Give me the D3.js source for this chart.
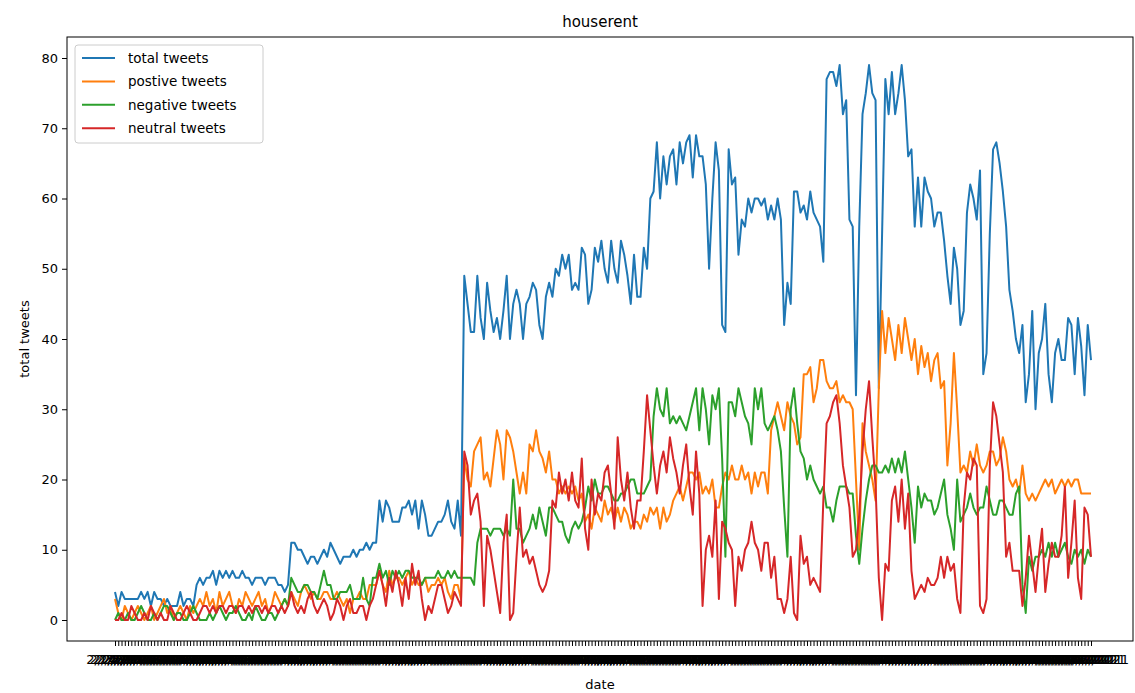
<!DOCTYPE html>
<html>
<head>
<meta charset="utf-8">
<script src="https://cdn.jsdelivr.net/npm/d3@7"></script>
<style>
  html, body { margin: 0; padding: 0; background: #fff; }
  svg { display: block; font-family: "DejaVu Sans", sans-serif; }
</style>
</head>
<body>
<svg id="chart" width="1135" height="693"></svg>
<script>
// ---- data ----
const seriesNames = ["total tweets", "postive tweets", "negative tweets", "neutral tweets"];
const seriesColors = ["#1f77b4", "#ff7f0e", "#2ca02c", "#d62728"];

const totalTweets = [
  4,2,4,3,3,3,3,3,4,3, 4,2,4,3,3,2,3,2,2,2, 4,2,3,3,2,5,6,5,6,6, 7,5,7,6,7,6,7,6,6,7, 6,6,5,6,6,6,5,6,6,6, 5,5,4,5,
  11,11,10,10,9,8,9,9,8,9, 10,9,11,10,9,8,9,9,9,10, 9,10,10,11,10,11,11,17,14,17, 16,14,14,14,16,16,17,15,17,13, 17,15,12,12,13,14,14,15,17,14, 13,17,12,
  49,45,41,41,49,43,40,48,44,41, 43,40,44,49,40,45,47,45,40,45, 46,48,47,42,40,46,48,46,50,49, 52,50,52,47,48,47,53,52,45,47, 53,51,54,50,48,54,
  50,48,54,52,49,45,52,46,46,53, 50,60,61,68,60,66,62,66,67,62, 68,65,68,69,63,69,66,66,62,50, 60,68,64,42,41,67,62,63,52,57, 56,60,58,60,60,59,60,57,59,57, 60,
  57,42,48,45,61,61,58,59,57,61, 58,57,56,51,77,78,78,76,79,72, 74,57,56,32,56,72,75,79,75,74, 33,55,77,72,78,72,75,79,74,66, 67,56,63,56,63,61,60,56,58,
  58,54,49,45,53,50,42,44,58,62, 60,57,64,35,38,55,67,68,65,61, 56,47,44,40,38,42,31,35,44,30, 38,40,45,35,31,38,40,37,37,43, 42,35,43,39,32,42,37
];
const positiveTweets = [
  3,1,0,2,1,0,1,2,1,0, 1,2,0,1,2,3,1,2,0,1, 2,1,0,2,1,2,3,2,4,2, 3,1,4,2,3,4,2,1,3,2, 4,3,2,3,4,2,3,1,2,4, 3,2,3,2,
  4,3,2,4,5,4,3,4,3,3, 4,4,3,3,4,3,2,3,1,3, 3,4,3,3,5,5,5,7,5,4, 7,5,6,6,5,6,7,5,6,5, 5,6,4,5,5,6,5,6,4,3, 5,5,3,
  23,20,19,24,25,26,20,21,19,23, 27,25,20,27,26,24,21,18,21,18, 25,24,27,24,23,21,24,20,20,18, 19,18,19,18,19,17,18,14,15,13, 16,15,14,17,15,16,14,16,14,16, 15,13,14,14,
  13,15,14,16,15,16,13,16,14,15, 17,18,19,17,19,21,21,20,21,18, 19,18,20,16,16,19,21,20,22,20, 20,22,20,21,18,21,19,21,21,18,
  27,29,31,29,27,31,29,28,25,26, 35,35,36,31,33,37,37,34,33,33, 34,31,32,31,31,30,20,10,28,24, 22,20,17,33,44,38,43,40,37,42, 38,43,40,37,40,35,39,36,38,34, 37,38,
  33,34,22,28,38,30,21,22,21,24, 22,25,22,21,22,24,24,22,23,26, 24,20,19,20,18,22,18,17,18,17, 18,19,20,19,20,18,19,20,19,20, 19,20,20,18,18,18,18
];
const negativeTweets = [
  0,1,0,0,1,0,0,1,2,1, 0,0,1,0,1,2,2,1,0,1, 1,0,0,1,2,1,0,0,0,1, 0,1,2,1,0,1,1,2,1,0, 0,1,0,2,1,0,0,1,1,0, 1,2,3,2,
  6,5,4,4,5,5,4,4,3,5, 7,5,5,3,3,4,4,4,5,3, 3,3,6,3,2,6,6,8,6,7, 5,7,6,7,6,7,7,6,6,6, 5,6,6,6,6,7,6,6,7,6, 7,6,6,
  6,6,6,5,11,13,13,13,12,13, 13,13,12,13,12,20,13,13,11,12, 13,15,13,16,14,12,16,16,15,14, 14,12,11,13,14,13,14,16,19,17, 20,18,18,19,19,18,17,17,18,18, 19,20,20,18,18,18,19,20,
  29,33,30,29,33,28,29,28,29,28, 27,29,31,33,27,33,30,25,32,30, 33,23,9,31,31,29,33,31,29,28, 25,33,30,33,28,27,
  28,29,27,24,16,9,30,33,28,24, 23,20,22,20,19,18,19,16,16,14, 17,19,19,19,18,18,12,8,13,17, 20,22,22,21,21,22,21,23,21,23, 21,24,20,16,11,19,16,18,17,17, 15,16,
  18,20,15,13,10,20,14,15,16,18, 16,15,16,16,19,17,15,15,17,17, 16,15,15,18,19,5,1,9,7,9, 9,10,9,11,9,11,9,10,11,9, 8,10,9,10,8,10,9
];
const neutralTweets = [
  0,0,1,0,0,2,1,0,0,1, 0,2,1,0,1,0,0,2,1,0, 0,1,2,1,0,0,1,2,2,1, 2,1,2,2,1,2,2,1,2,2, 1,2,1,2,2,1,2,1,2,2, 1,2,1,2,
  4,2,1,2,1,3,4,2,1,2, 3,2,0,1,3,2,0,2,3,1, 1,2,2,0,2,3,5,7,5,2, 6,4,7,5,2,6,3,8,5,7, 3,0,2,1,3,5,5,3,1,2, 4,3,2,
  24,22,15,17,18,14,2,12,10,7, 4,1,11,15,0,1,9,16,9,10, 8,9,7,5,4,5,7,17,16,21, 18,20,17,21,17,16,23,13,10,20, 15,18,17,21,22,18,13,26,20,17, 21,16,13,17,
  17,24,32,27,22,18,22,24,21,26, 23,21,18,22,25,19,15,24,18,2, 10,12,9,17,3,14,13,11,10,2, 9,7,10,11,14,11,10,7,11,11,
  6,9,3,3,1,3,9,1,0,12, 8,9,5,6,5,4,17,28,29,31, 32,28,22,19,16,9,10,15,24,30, 34,26,19,6,0,8,7,17,19,14, 20,13,18,7,3,4,5,4,6,5, 5,6,
  9,6,9,7,8,3,1,16,21,20, 23,22,2,1,3,22,31,29,25,21, 9,11,7,7,7,2,6,12,8,4, 9,13,4,8,11,9,9,12,19,6, 11,17,6,3,16,15,9
];
// one category (date) per data point; the labels overlap into a band as in the original
const fmt = d3.timeFormat("%-m/%-d/%Y");
const dates = d3.timeDay.range(new Date(2021, 1, 1), new Date(2021, 1, 1 + totalTweets.length)).map(fmt);
const yTicks = [0, 10, 20, 30, 40, 50, 60, 70, 80];

const allSeries = [totalTweets, positiveTweets, negativeTweets, neutralTweets];

// ---- layout ----
const svg = d3.select("#chart");
const frame = { left: 67, right: 1133, top: 37, bottom: 641 };

const x = d3.scalePoint().domain(dates).range([115, 1091]);
const y = d3.scaleLinear().domain([0, 80]).range([620, 58]);

// lines
const line = d3.line().x((d, i) => x(dates[i])).y(d => y(d));
allSeries.forEach((s, k) => {
  svg.append("path")
    .datum(s)
    .attr("fill", "none")
    .attr("stroke", seriesColors[k])
    .attr("stroke-width", 2)
    .attr("stroke-linejoin", "round")
    .attr("d", line);
});

// frame
svg.append("rect")
  .attr("x", frame.left).attr("y", frame.top)
  .attr("width", frame.right - frame.left).attr("height", frame.bottom - frame.top)
  .attr("fill", "none").attr("stroke", "#000").attr("stroke-width", 1);

// x axis
const gx = svg.append("g")
  .attr("transform", `translate(0,${frame.bottom})`)
  .call(d3.axisBottom(x).tickSize(5).tickPadding(9));
gx.select(".domain").remove();
gx.selectAll("text").attr("font-size", 13).attr("fill", "#000").attr("font-family", "DejaVu Sans");

// y axis
const gy = svg.append("g")
  .attr("transform", `translate(${frame.left},0)`)
  .call(d3.axisLeft(y).tickValues(yTicks).tickSize(5).tickPadding(4));
gy.select(".domain").remove();
gy.selectAll("text").attr("font-size", 13).attr("fill", "#000").attr("font-family", "DejaVu Sans");

// title & labels
svg.append("text").attr("x", 600).attr("y", 27).attr("text-anchor", "middle")
  .attr("font-size", 15).text("houserent");
svg.append("text").attr("x", 600).attr("y", 689).attr("text-anchor", "middle")
  .attr("font-size", 13).text("date");
svg.append("text").attr("transform", `translate(29,339) rotate(-90)`).attr("text-anchor", "middle")
  .attr("font-size", 13).text("total tweets");

// legend
const lg = svg.append("g");
lg.append("rect").attr("x", 75).attr("y", 45).attr("width", 188).attr("height", 98)
  .attr("rx", 3).attr("fill", "#fff").attr("fill-opacity", 0.85).attr("stroke", "#ccc");
seriesNames.forEach((name, k) => {
  const yy = 58 + k * 23.4;
  lg.append("line").attr("x1", 82).attr("x2", 115).attr("y1", yy).attr("y2", yy)
    .attr("stroke", seriesColors[k]).attr("stroke-width", 2);
  lg.append("text").attr("x", 128).attr("y", yy).attr("dy", "0.35em")
    .attr("font-size", 13.5).text(name);
});
</script>
</body>
</html>
